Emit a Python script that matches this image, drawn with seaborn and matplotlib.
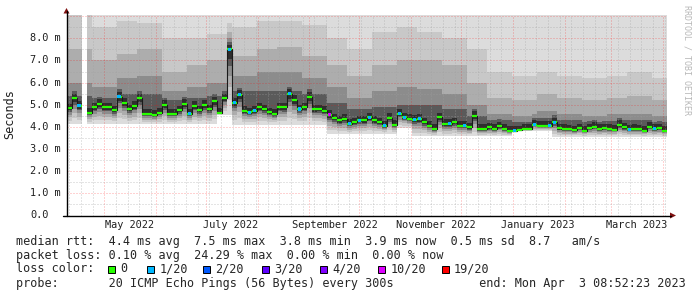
import numpy as np
import pandas as pd
import matplotlib
matplotlib.use("Agg")
import matplotlib.pyplot as plt
import matplotlib.dates as mdates
from matplotlib.ticker import MultipleLocator, NullFormatter
from matplotlib.patches import Rectangle, Polygon
from matplotlib.lines import Line2D
import seaborn as sns

# ---------------- data ----------------
end_time = "2023-04-03 08:52:23"
span_days = 360
bin_days = 3

# median RTT (ms) per 3-day bin
median_ms = [
    4.85, 5.30, 4.95, np.nan, 4.65, 4.90, 5.05, 4.90, 4.90, 4.75,
    5.37, 5.10, 4.80, 4.95, 5.30, 4.60, 4.60, 4.55, 4.65, 5.00,
    4.60, 4.60, 4.75, 5.05, 4.60, 4.95, 4.75, 5.00, 4.80, 5.15,
    4.65, 5.30, 7.50, 5.10, 5.45, 4.74, 4.66, 4.74, 4.90, 4.81,
    4.66, 4.59, 4.90, 4.89, 5.49, 5.22, 4.81, 4.90, 5.37, 4.80,
    4.81, 4.74, 4.55, 4.40, 4.29, 4.36, 4.14, 4.21, 4.30, 4.29,
    4.44, 4.29, 4.21, 4.06, 4.41, 4.10, 4.59, 4.44, 4.36, 4.32,
    4.36, 4.21, 4.06, 3.91, 4.45, 4.14, 4.14, 4.21, 4.06, 4.06,
    3.98, 4.50, 3.91, 3.91, 3.98, 3.91, 4.02, 3.91, 3.83, 3.83,
    3.85, 3.91, 3.91, 4.10, 4.06, 4.06, 4.06, 4.21, 3.94, 3.91,
    3.90, 3.86, 3.95, 3.83, 3.95, 4.00, 3.91, 3.95, 3.91, 3.88,
    4.10, 3.98, 3.90, 3.91, 3.90, 3.83, 4.00, 3.91, 3.95, 3.83,
]

# lost pings (out of 20) per bin
loss_of_20 = [
    0, 0, 1, 0, 0, 0, 0, 0, 0, 0, 1, 0, 0, 0, 0, 0, 0, 0, 0, 0,
    0, 0, 0, 0, 1, 0, 0, 0, 0, 0, 0, 0, 1, 1, 1, 0, 1, 1, 0, 0,
    0, 0, 0, 0, 1, 0, 1, 0, 0, 0, 0, 0, 10, 0, 0, 0, 1, 0, 1, 0,
    1, 0, 0, 1, 0, 0, 1, 1, 0, 1, 1, 0, 0, 0, 0, 0, 1, 0, 0, 1,
    0, 0, 0, 0, 0, 0, 0, 0, 0, 1, 0, 0, 0, 1, 0, 0, 1, 1, 0, 0,
    0, 0, 0, 0, 0, 0, 0, 0, 0, 0, 0, 0, 1, 0, 0, 0, 0, 1, 0, 0,
]

# lowest ping (smoke floor), piecewise by start date
floor_start = ["2022-04-01", "2022-07-08", "2022-07-17", "2022-09-11",
               "2022-10-24", "2022-11-01", "2022-12-30", "2023-01-25"]
floor_ms = [4.12, 4.55, 4.10, 3.68, 3.95, 3.57, 3.80, 3.55]

# upper smoke levels per 14-day bin (light -> dark layers)
smoke_top_1 = [9.1, 8.5, 8.8, 8.7, 8.0, 8.0, 8.2, 8.5, 8.8, 8.8, 8.6, 8.0, 7.5,
               8.3, 8.5, 8.3, 8.0, 7.5, 6.5, 6.3, 6.5, 6.3, 6.2, 6.3, 6.5, 6.2]
smoke_top_2 = [7.5, 7.0, 7.3, 7.5, 6.5, 6.8, 7.0, 7.2, 7.5, 7.6, 7.2, 6.8, 6.3,
               6.8, 7.0, 7.0, 6.8, 6.0, 5.3, 5.2, 5.5, 5.3, 5.2, 5.3, 5.4, 5.2]
smoke_top_3 = [6.0, 5.8, 6.2, 6.3, 5.6, 5.8, 6.0, 6.3, 6.5, 6.5, 6.2, 5.8, 5.3,
               5.6, 5.8, 5.7, 5.5, 5.0, 4.6, 4.5, 4.7, 4.6, 4.5, 4.6, 4.6, 4.5]
smoke_top_4 = [5.4, 5.3, 5.5, 5.5, 5.2, 5.3, 5.4, 5.6, 5.6, 5.6, 5.5, 5.1, 4.8,
               4.9, 5.0, 5.0, 4.8, 4.5, 4.3, 4.2, 4.4, 4.3, 4.2, 4.25, 4.3, 4.2]

ytick_values = [0, 1, 2, 3, 4, 5, 6, 7, 8]
label_months = ["2022-05-01", "2022-07-01", "2022-09-01",
                "2022-11-01", "2023-01-01", "2023-03-01"]

loss_levels = [0, 1, 2, 3, 4, 10, 19]
loss_labels = ["0", "1/20", "2/20", "3/20", "4/20", "10/20", "19/20"]
loss_colors = ["#26ff00", "#00b8ff", "#0059ff", "#5e00ff", "#7e00ff", "#dd00ff", "#ff0000"]

line_median = "median rtt:  4.4 ms avg  7.5 ms max  3.8 ms min  3.9 ms now  0.5 ms sd  8.7   am/s"
line_loss = "packet loss: 0.10 % avg  24.29 % max  0.00 % min  0.00 % now"
line_probe = "probe:       20 ICMP Echo Pings (56 Bytes) every 300s            end: Mon Apr  3 08:52:23 2023"

# ---------------- build frame ----------------
end = pd.Timestamp(end_time)
start = end - pd.Timedelta(days=span_days)
n = len(median_ms)
idx = np.arange(n)
times = start + pd.to_timedelta((idx + 0.5) * bin_days, unit="D")
tnum = mdates.date2num(times.to_pydatetime())
med = np.array(median_ms, dtype=float)
fl_idx = np.searchsorted(pd.to_datetime(floor_start).values, times.values, side="right") - 1
floor = np.array(floor_ms)[fl_idx]
bw = np.minimum((idx * bin_days) // 14, len(smoke_top_1) - 1)
t1 = np.array(smoke_top_1)[bw]
t2 = np.array(smoke_top_2)[bw]
t3 = np.array(smoke_top_3)[bw]
t4 = np.array(smoke_top_4)[bw]

seg = np.cumsum(np.isnan(med))
df = pd.DataFrame({"t": tnum, "median": med, "loss": loss_of_20, "seg": seg})

# ---------------- figure ----------------
sns.set_style("white")
plt.rcParams["font.family"] = ["DejaVu Sans Mono", "DejaVu Sans"]
W, H = 697, 297
fig = plt.figure(figsize=(W / 100, H / 100), dpi=100, facecolor="white")

def fx(x):
    return x / W

def fy(y):
    return 1 - y / H

ax_l, ax_r, ax_t, ax_b = 66.5, 667.0, 14.5, 215.5
ax = fig.add_axes([fx(ax_l), fy(ax_b), (ax_r - ax_l) / W, (ax_b - ax_t) / H])
ymax = (ax_b - ax_t) / 22.15
ax.set_ylim(0, ymax)
ax.set_xlim(mdates.date2num(start.to_pydatetime()), mdates.date2num(end.to_pydatetime()))
ax.set_facecolor("white")

valid = ~np.isnan(med)
gap = med - floor
layers = [
    (floor, np.full(n, ymax + 1), "#dcdcdc"),
    (floor + 0.22 * gap, np.maximum(t1, med + 1.2), "#c8c8c8"),
    (floor + 0.42 * gap, np.maximum(t2, med + 0.8), "#adadad"),
    (floor + 0.60 * gap, np.maximum(t3, med + 0.5), "#8c8c8c"),
    (floor + 0.75 * gap, np.maximum(t4, med + 0.32), "#5a5a5a"),
    (floor + 0.85 * gap, med + 0.2, "#2e2e2e"),
]
for lo, hi, col in layers:
    ax.bar(tnum[valid], (hi - lo)[valid], bottom=lo[valid], width=bin_days,
           color=col, linewidth=0, antialiased=False, zorder=1)

# median: thin dark connectors + green per-bin dashes, loss colored squares
sns.lineplot(data=df.dropna(), x="t", y="median", units="seg", estimator=None,
             drawstyle="steps-mid", color="#1a1a1a", linewidth=0.8,
             ax=ax, zorder=4, legend=False)
ok = df["median"].notna()
ax.hlines(df.loc[ok, "median"], df.loc[ok, "t"] - bin_days * 0.5, df.loc[ok, "t"] + bin_days * 0.5,
          colors=loss_colors[0], linewidth=1.6, zorder=5)
lossy = df[(df["loss"] > 0) & ok].copy()
pal = {lv: c for lv, c in zip(loss_levels, loss_colors)}
sns.scatterplot(data=lossy, x="t", y="median", hue="loss", palette=pal,
                marker="s", s=5, linewidth=0, ax=ax, zorder=6, legend=False)

# grid (drawn over the smoke, dotted like rrdtool)
ax.yaxis.set_major_locator(MultipleLocator(1))
ax.yaxis.set_minor_locator(MultipleLocator(0.5))
ax.xaxis.set_major_locator(mdates.MonthLocator())
ax.xaxis.set_minor_locator(mdates.WeekdayLocator(byweekday=mdates.SU))
ax.set_axisbelow(False)
ax.grid(which="minor", color="#a0a0a0", alpha=0.55, linestyle=(0, (1, 2)),
        linewidth=0.72)
ax.grid(which="major", color="#ff0000", alpha=0.35, linestyle=(0, (1, 2)),
        linewidth=0.72)
ax.xaxis.set_major_formatter(NullFormatter())
ax.yaxis.set_major_formatter(NullFormatter())
ax.tick_params(which="major", length=2, width=0.7, color="#a0a0a0")
ax.tick_params(which="minor", length=1, width=0.7, color="#c0c0c0")
for s in ax.spines.values():
    s.set_visible(False)
ax.set_xlabel("")
ax.set_ylabel("")

# y tick labels
for v in ytick_values:
    lbl = "0.0" if v == 0 else f"{v:.1f} m"
    ax.text((30 - ax_l) / (ax_r - ax_l), v, lbl, transform=ax.get_yaxis_transform(),
            ha="left", va="center", fontsize=7.4, family="DejaVu Sans Mono", color="#202020")

# x labels (centered mid-month)
for m in pd.to_datetime(label_months):
    pos = mdates.date2num((m + pd.Timedelta(days=15)).to_pydatetime())
    ax.text(pos, -(225 - ax_b) / (ax_b - ax_t), m.strftime("%B %Y"),
            transform=ax.get_xaxis_transform(), ha="center", va="center",
            fontsize=7.4, family="DejaVu Sans Mono", color="#202020")

# axes lines and arrows
fig.add_artist(Line2D([fx(ax_l), fx(ax_l)], [fy(216), fy(11)], color="black", lw=1.0))
fig.add_artist(Line2D([fx(63), fx(671)], [fy(ax_b), fy(ax_b)], color="black", lw=1.0))
fig.add_artist(Polygon([[fx(ax_l), fy(8)], [fx(63.5), fy(13.5)], [fx(69.5), fy(13.5)]],
                       closed=True, color="#7f1010", lw=0))
fig.add_artist(Polygon([[fx(676), fy(ax_b)], [fx(670), fy(212.5)], [fx(670), fy(218.5)]],
                       closed=True, color="#7f1010", lw=0))

# axis unit + watermark
fig.text(fx(10), fy(114), "Seconds", rotation=90, ha="center", va="center",
         fontsize=8.5, family="DejaVu Sans Mono", color="#202020")
fig.text(fx(687), fy(60), "RRDTOOL / TOBI OETIKER", rotation=270, ha="center", va="center",
         fontsize=6, family="DejaVu Sans Mono", color="#b8b8b8")

# legend / stats
fs = 8.5
fig.text(fx(16), fy(241), line_median, ha="left", va="center", fontsize=fs, family="DejaVu Sans Mono")
fig.text(fx(16), fy(255), line_loss, ha="left", va="center", fontsize=fs, family="DejaVu Sans Mono")
fig.text(fx(16), fy(269), "loss color:", ha="left", va="center", fontsize=fs, family="DejaVu Sans Mono")
fig.text(fx(16), fy(283), line_probe, ha="left", va="center", fontsize=fs, family="DejaVu Sans Mono")
box_cols = [13.0, 18.5, 26.4, 34.7, 42.9, 51.1, 60.1]
for col, lab, c in zip(box_cols, loss_labels, loss_colors):
    bx = 16 + 7.09 * col
    fig.add_artist(Rectangle((fx(bx), fy(272.5)), 7 / W, 7 / H, facecolor=c,
                             edgecolor="black", lw=0.7, transform=fig.transFigure))
    fig.text(fx(bx + 12), fy(269), lab, ha="left", va="center", fontsize=fs,
             family="DejaVu Sans Mono")

fig.savefig("out.png", dpi=100, facecolor="white")
